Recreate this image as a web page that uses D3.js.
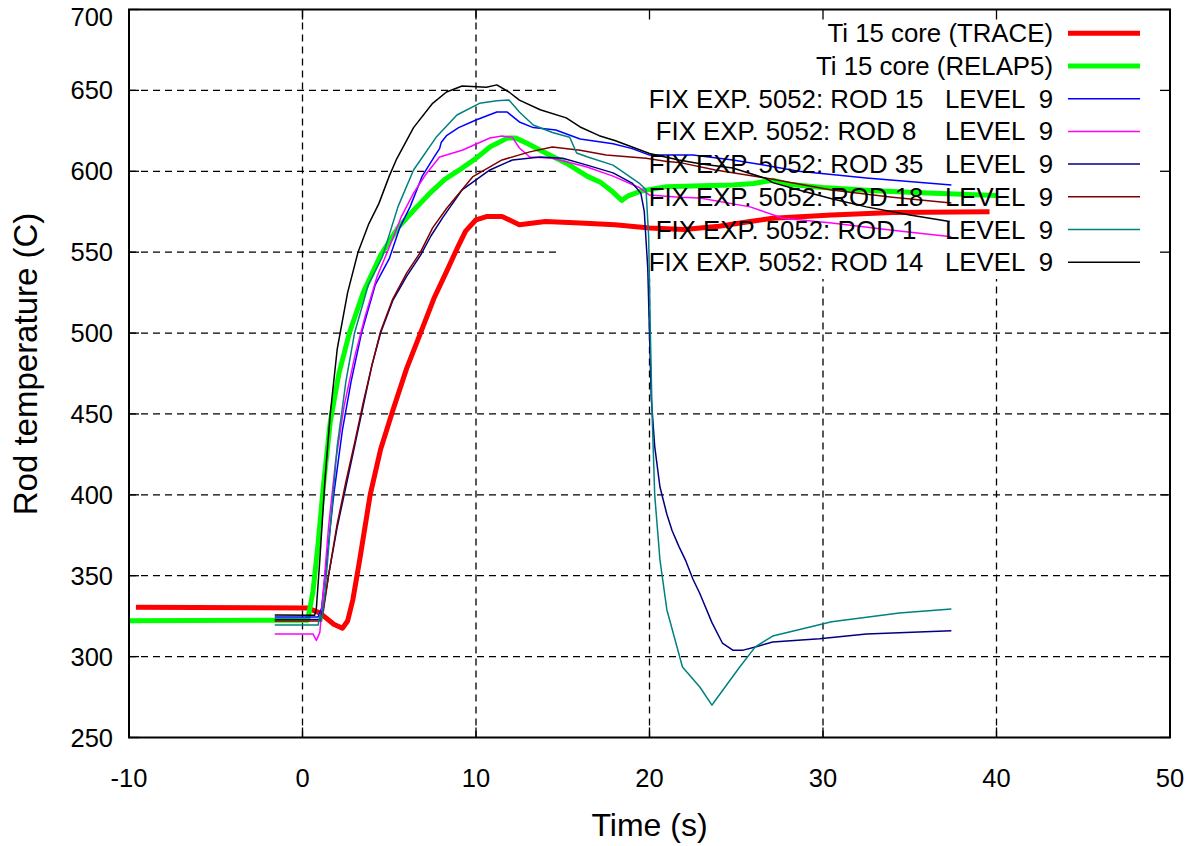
<!DOCTYPE html>
<html>
<head>
<meta charset="utf-8">
<script src="https://cdn.jsdelivr.net/npm/d3@7"></script>
<style>
  body { margin: 0; background: #fff; }
  text { font-family: "Liberation Sans", Arial, sans-serif; fill: #000; }
</style>
</head>
<body>
<svg id="chart" width="1199" height="846"></svg>
<script>
// series values: [time (s), temperature (C)]
var traceCore = [[-9.6,330.5],[0.3,330],[1,327],[1.8,320],[2.3,317.5],[2.6,322],[2.9,335],[3.3,360],[3.9,400],[4.5,428],[5.2,452],[6,478],[6.8,500],[7.6,522],[8.3,538],[8.9,552],[9.4,563],[10,570],[10.6,572],[11.5,572],[12.5,567],[14,569],[16,568],[18,567],[20,565],[22,564],[24,566],[25.8,569],[27.1,571],[30.5,573],[34,574.5],[39.6,575]];
var relapCore = [[-10,322.2],[0.3,322.5],[0.6,340],[0.9,370],[1.2,405],[1.6,445],[2.1,475],[2.7,500],[3.5,525],[4.5,548],[5.5,565],[6.5,577],[7.3,586],[8.2,595],[9.2,602],[10,608],[10.8,615],[11.8,620.5],[12.3,620.5],[13,617],[13.7,613],[15.2,605],[16.4,597],[17.2,593],[17.8,588],[18.4,582],[18.8,585],[19.6,588],[21,590.5],[23,591],[24.8,591.5],[26,592.5],[27.1,594.5],[28,592],[30,590],[33,588],[36,586.5],[40,585]];
var rod15 = [[-1.6,324.5],[0.9,324.5],[1.1,330],[1.4,360],[1.8,400],[2.3,440],[2.8,470],[3.4,500],[4.2,530],[5,546],[5.6,565],[6.2,578],[6.9,597],[7.6,609],[7.9,614],[8,618],[8.3,622],[9,627],[10,631.7],[11.2,636.6],[11.8,636.6],[12.5,630.5],[13.3,627],[14.6,625.5],[16,620],[17.9,617],[19,614],[20,610],[22.5,610],[24.8,607],[26.5,604],[28.6,600],[30.5,598],[32.5,595.8],[37.4,591.5]];
var rod8 = [[-1.6,314],[0.6,314],[0.8,310],[1,315],[1.2,340],[1.5,380],[1.9,420],[2.4,455],[3,485],[3.6,510],[4.3,535],[5,553],[5.7,572],[6.4,586.5],[7.1,598],[7.9,608.8],[9.2,613],[10.8,620.6],[11.5,621.8],[12.1,621],[12.5,614.4],[13.1,608.8],[14.4,608],[16.4,602.6],[17.9,597],[19.4,590],[20,585.3],[21.7,584],[22.9,583.5],[25.8,578],[27.7,571],[30.5,568],[34,563.5],[37.4,559.5]];
var rod35 = [[-1.6,323],[1,323],[1.2,330],[1.5,350],[2,380],[2.5,405],[3,430],[3.5,455],[4,480],[4.5,500],[5.2,520],[6,535],[6.8,548],[7.4,560],[8.1,571.7],[9.2,588.5],[10.8,600.8],[12.1,607],[13.7,608.8],[15,608],[16.4,603.8],[17.9,599],[19,592.7],[19.5,586.5],[19.7,575],[19.9,540],[20,500],[20.1,460],[20.3,430],[20.6,405],[21,388],[21.3,378],[21.7,368],[22.1,359],[22.5,348],[22.9,339],[23.6,321],[24.2,308.4],[24.8,304],[25.4,304],[26.1,306],[27.1,309],[29.8,311],[32.5,314],[37.4,316]];
var rod18 = [[-1.6,322],[1,322],[1.2,328],[1.5,350],[2,382],[2.5,408],[3,432],[3.5,457],[4,480],[4.5,501],[5.2,521],[6,537],[6.8,550],[7.5,565],[8.3,577],[9.8,596.5],[11.5,607],[13.1,612],[14.4,615],[16,613],[17.5,610],[19.8,608],[21,606],[21.7,605.5],[23.8,600.8],[26.7,595.8],[30.5,588.4],[34,584],[37.4,580.4]];
var rod1 = [[-1.6,319.5],[0.9,319.5],[1,326],[1.1,322],[1.3,340],[1.6,380],[2,430],[2.5,470],[3,500],[3.8,530],[4.6,547],[5.5,578],[6.4,600.8],[7.7,621],[8.9,634.8],[10.2,642],[11.2,643.6],[11.9,644],[12.5,636.6],[13.3,628.6],[14.4,624],[15.4,621],[15.8,611.3],[16.4,609],[17.9,603.8],[19.4,592.7],[19.8,588.5],[19.95,560],[20.05,500],[20.15,450],[20.3,400],[20.6,360],[21,329],[21.9,293.6],[22.9,281.2],[23.6,270],[23.8,273],[25.2,293.6],[26.1,306],[27.1,312.7],[30.5,321.6],[34.4,327],[37.4,329.4]];
var rod14 = [[-1.6,325.7],[0.7,325.5],[0.8,330],[1,360],[1.3,410],[1.6,450],[2,490],[2.6,525],[3.2,550],[3.8,567],[4.4,580],[5,597],[5.4,607],[6.4,627],[7.5,642],[8.3,649],[9.2,652.7],[10.6,652],[11.2,653.4],[11.9,649],[12.5,644],[13.7,638],[15.2,633],[16,627.4],[17.1,622],[18,619],[19,615],[20,611],[21.7,607],[23,604.5],[24.8,602],[26.7,595.6],[27.1,593],[28.6,588.4],[30.5,583],[32.5,578],[35,573],[37.3,569]];

var seriesNames = ["Ti 15 core (TRACE)", "Ti 15 core (RELAP5)",
  "FIX EXP. 5052: ROD 15   LEVEL  9", "FIX EXP. 5052: ROD 8    LEVEL  9",
  "FIX EXP. 5052: ROD 35   LEVEL  9", "FIX EXP. 5052: ROD 18   LEVEL  9",
  "FIX EXP. 5052: ROD 1    LEVEL  9", "FIX EXP. 5052: ROD 14   LEVEL  9"];
var seriesColors = ["#ff0000", "#00ff00", "#0000ff", "#ff00ff", "#000080", "#800000", "#008080", "#000000"];
var seriesWidths = [5, 5, 1.5, 1.5, 1.5, 1.5, 1.5, 1.5];
var seriesData = [traceCore, relapCore, rod15, rod8, rod35, rod18, rod1, rod14];

var xTicks = [-10, 0, 10, 20, 30, 40, 50];
var yTicks = [250, 300, 350, 400, 450, 500, 550, 600, 650, 700];

// plot frame ("top" is reserved by the window object, so use prefixed names)
var plotLeft = 129, plotRight = 1170, plotTop = 9.5, plotBottom = 737.5;
// key box (gnuplot clears the grid under it)
var keyLeft = 560, keyBottom = 279;

var svg = d3.select("#chart");

var x = d3.scaleLinear().domain([-10, 50]).range([plotLeft, plotRight]);
var y = d3.scaleLinear().domain([250, 700]).range([plotBottom, plotTop]);

// grid
var grid = svg.append("g")
    .attr("stroke", "#000")
    .attr("stroke-width", 1.3)
    .attr("stroke-dasharray", "7,5");

grid.selectAll(".gx")
    .data(xTicks.filter(function(d) { return d > -10 && d < 50; }))
    .enter().append("line")
    .attr("x1", function(d) { return x(d); })
    .attr("x2", function(d) { return x(d); })
    .attr("y1", plotBottom)
    .attr("y2", function(d) { return x(d) > keyLeft ? keyBottom : plotTop; });

grid.selectAll(".gy")
    .data(yTicks.filter(function(d) { return d > 250 && d < 700; }))
    .enter().append("line")
    .attr("y1", function(d) { return y(d); })
    .attr("y2", function(d) { return y(d); })
    .attr("x1", plotLeft)
    .attr("x2", function(d) { return y(d) < keyBottom ? keyLeft : plotRight; });

// ticks on all four sides, pointing inwards
var ticks = svg.append("g").attr("stroke", "#000").attr("stroke-width", 1.3);
xTicks.forEach(function(d) {
  ticks.append("line").attr("x1", x(d)).attr("x2", x(d)).attr("y1", plotBottom).attr("y2", plotBottom - 10);
  ticks.append("line").attr("x1", x(d)).attr("x2", x(d)).attr("y1", plotTop).attr("y2", plotTop + 10);
});
yTicks.forEach(function(d) {
  ticks.append("line").attr("y1", y(d)).attr("y2", y(d)).attr("x1", plotLeft).attr("x2", plotLeft + 10);
  ticks.append("line").attr("y1", y(d)).attr("y2", y(d)).attr("x1", plotRight).attr("x2", plotRight - 10);
});

// curves
svg.append("clipPath").attr("id", "plotclip")
  .append("rect")
    .attr("x", plotLeft).attr("y", plotTop)
    .attr("width", plotRight - plotLeft).attr("height", plotBottom - plotTop);

var line = d3.line()
    .x(function(d) { return x(d[0]); })
    .y(function(d) { return y(d[1]); });

svg.append("g")
    .attr("clip-path", "url(#plotclip)")
  .selectAll("path")
    .data(seriesData)
    .enter().append("path")
    .attr("d", line)
    .attr("fill", "none")
    .attr("stroke", function(d, i) { return seriesColors[i]; })
    .attr("stroke-width", function(d, i) { return seriesWidths[i]; })
    .attr("stroke-linejoin", "round");

// border
svg.append("rect")
    .attr("x", plotLeft).attr("y", plotTop)
    .attr("width", plotRight - plotLeft).attr("height", plotBottom - plotTop)
    .attr("fill", "none")
    .attr("stroke", "#000")
    .attr("stroke-width", 2);

// tick labels
svg.append("g").selectAll("text")
    .data(xTicks)
    .enter().append("text")
    .attr("x", function(d) { return x(d); })
    .attr("y", 787)
    .attr("text-anchor", "middle")
    .style("font-size", "25.5px")
    .text(function(d) { return d; });

// top label is pushed down so it stays inside the picture
svg.append("g").selectAll("text")
    .data(yTicks)
    .enter().append("text")
    .attr("x", 113)
    .attr("y", function(d) { return Math.max(y(d), 17) + 9; })
    .attr("text-anchor", "end")
    .style("font-size", "25.5px")
    .text(function(d) { return d; });

// axis titles
svg.append("text")
    .attr("x", (plotLeft + plotRight) / 2)
    .attr("y", 836)
    .attr("text-anchor", "middle")
    .style("font-size", "32px")
    .text("Time (s)");

svg.append("text")
    .attr("transform", "translate(37,364) rotate(-90)")
    .attr("text-anchor", "middle")
    .style("font-size", "33px")
    .text("Rod temperature (C)");

// key
var key = svg.append("g");
seriesNames.forEach(function(name, i) {
  var ky = 33.3 + i * 32.7;
  key.append("text")
      .attr("x", 1053)
      .attr("y", ky + 9)
      .attr("text-anchor", "end")
      .style("font-size", "25.8px")
      .style("white-space", "pre")
      .text(name);
  key.append("line")
      .attr("x1", 1068).attr("x2", 1140)
      .attr("y1", ky).attr("y2", ky)
      .attr("stroke", seriesColors[i])
      .attr("stroke-width", seriesWidths[i]);
});
</script>
</body>
</html>
